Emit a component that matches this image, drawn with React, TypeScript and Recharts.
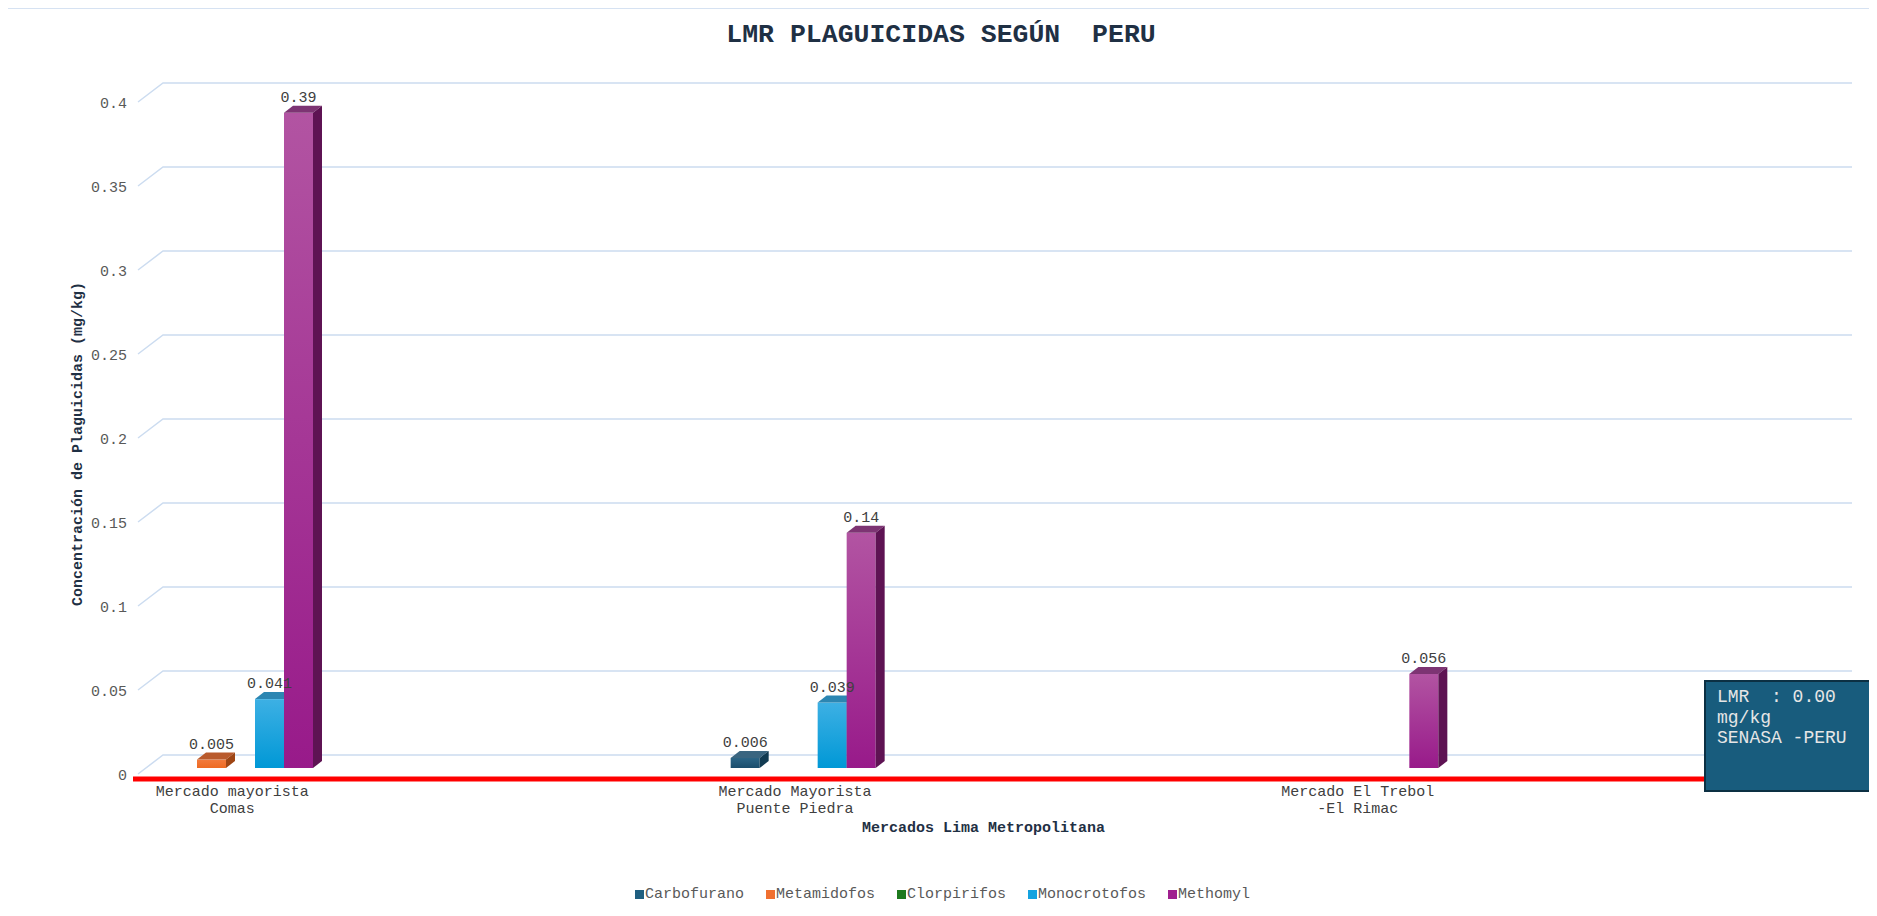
import React from 'react';
import { BarChart, Bar, XAxis, YAxis, CartesianGrid, Legend, LabelList, ReferenceLine, Label } from 'recharts';

const FONT = '"Liberation Mono", "Courier New", monospace';

// categorias (dos lineas cada una)
const mercados = [
  ['Mercado mayorista', 'Comas'],
  ['Mercado Mayorista', 'Puente Piedra'],
  ['Mercado El Trebol', '-El Rimac'],
];

// concentraciones (mg/kg), null = no detectado
const carbofurano = [null, 0.006, null];
const metamidofos = [0.005, null, null];
const clorpirifos = [null, null, null];
const monocrotofos = [0.041, 0.039, null];
const methomyl = [0.39, 0.14, 0.056];

const yTicks = [0, 0.05, 0.1, 0.15, 0.2, 0.25, 0.3, 0.35, 0.4];

const data = mercados.map((m, i) => ({
  mercado: m.join('\n'),
  carbofurano: carbofurano[i],
  metamidofos: metamidofos[i],
  clorpirifos: clorpirifos[i],
  monocrotofos: monocrotofos[i],
  methomyl: methomyl[i],
}));

const series = [
  { key: 'carbofurano', name: 'Carbofurano', color: '#1F5F80', front: ['#2C6586', '#1B4D6C'], top: '#3A6580', side: '#123B52' },
  { key: 'metamidofos', name: 'Metamidofos', color: '#F07030', front: ['#F27A3C', '#EE6A22'], top: '#B95A2C', side: '#9E4514' },
  { key: 'clorpirifos', name: 'Clorpirifos', color: '#1E7A1E', front: ['#2E8B2E', '#1E6E1E'], top: '#1B5E1B', side: '#124212' },
  { key: 'monocrotofos', name: 'Monocrotofos', color: '#14A3E0', front: ['#3DB0E4', '#0098D6'], top: '#2C86B2', side: '#0B6A96' },
  { key: 'methomyl', name: 'Methomyl', color: '#A0208F', front: ['#B254A2', '#981A8A'], top: '#7D3473', side: '#5E1353' },
];

// barra con efecto 3D: frente + cara superior + lateral
function box3d(s: any) {
  return (props: any) => {
    const { x, y, width, height, payload } = props;
    if (!payload || payload[s.key] == null) return <g />;
    const dx = 9;
    const dy = 7;
    return (
      <g>
        <rect x={x} y={y} width={width} height={height} fill={`url(#grad-${s.key})`} />
        <polygon
          points={`${x},${y} ${x + dx},${y - dy} ${x + width + dx},${y - dy} ${x + width},${y}`}
          fill={s.top}
        />
        <polygon
          points={`${x + width},${y} ${x + width + dx},${y - dy} ${x + width + dx},${y + height - dy} ${x + width},${y + height}`}
          fill={s.side}
        />
      </g>
    );
  };
}

const renderValue = (p: any) => {
  if (p.value == null) return null;
  return (
    <text x={p.x + p.width / 2} y={p.y - 16} dy="0.35em" textAnchor="middle" fill="#404040" fontSize={15} fontFamily={FONT}>
      {p.value}
    </text>
  );
};

const backWall = (p: any) => (
  <polyline
    key={p.key}
    points={`${p.x1 - 2},${p.y1 + 6} ${p.x1 + 23},${p.y1 - 13} ${p.x2 + 25},${p.y1 - 13}`}
    fill="none"
    stroke="#CCDCF0"
    strokeWidth={1.5}
  />
);

const lmrLine = (p: any) => (
  <line x1={p.x1 - 7} y1={p.y1 + 11} x2={p.x2} y2={p.y1 + 11} stroke="#FF0000" strokeWidth={5} />
);

const yTick = (p: any) => (
  <text x={p.x} y={p.y + 7} dy="0.35em" textAnchor="end" fill="#595959" fontSize={15} fontFamily={FONT}>
    {p.payload.value}
  </text>
);

const xTick = (p: any) => {
  const lines = String(p.payload.value).split('\n');
  return (
    <g>
      {lines.map((t, i) => (
        <text key={i} x={p.x - 8} y={p.y + 23 + i * 17} dy="0.35em" textAnchor="middle" fill="#404040" fontSize={15} fontFamily={FONT}>
          {t}
        </text>
      ))}
    </g>
  );
};

const yLabel = (p: any) => {
  const vb = p.viewBox;
  const cx = vb.x + 69;
  const cy = vb.y + vb.height / 2 + 12;
  return (
    <text x={cx} y={cy} dy="0.35em" transform={`rotate(-90 ${cx} ${cy})`} textAnchor="middle" fill="#1F3044" fontSize={15} fontWeight="bold" fontFamily={FONT}>
      Concentración de Plaguicidas (mg/kg)
    </text>
  );
};

const xLabel = (p: any) => {
  const vb = p.viewBox;
  return (
    <text x={vb.x + vb.width / 2} y={vb.y + 59} dy="0.35em" textAnchor="middle" fill="#1F3044" fontSize={15} fontWeight="bold" fontFamily={FONT}>
      Mercados Lima Metropolitana
    </text>
  );
};

const legendContent = () => (
  <div style={{ display: 'flex', justifyContent: 'center', alignItems: 'center', height: 22, paddingLeft: 50, gap: 22, fontFamily: FONT, fontSize: 15, color: '#595959' }}>
    {series.map((s) => (
      <div key={s.key} style={{ display: 'flex', alignItems: 'center' }}>
        <span style={{ display: 'inline-block', width: 9, height: 9, background: s.color, marginRight: 1 }} />
        {s.name}
      </div>
    ))}
  </div>
);

export default function App() {
  return (
    <div style={{ position: 'relative', width: 1866, height: 912, border: '2px solid #D6E2F2', margin: '-1px 0 0 -2px', background: '#fff' }}>
      <div style={{ position: 'absolute', left: 0, top: 11, width: 1866, textAlign: 'center', fontFamily: FONT, fontSize: 26.5, lineHeight: '30px', fontWeight: 'bold', color: '#1F3044', whiteSpace: 'pre' }}>
        LMR PLAGUICIDAS SEGÚN  PERU
      </div>
      <BarChart width={1866} height={912} data={data} margin={{ top: 87, right: 47, bottom: 16, left: 0 }} barSize={29} barGap={0}>
        <defs>
          {series.map((s) => (
            <linearGradient key={s.key} id={`grad-${s.key}`} x1="0" y1="0" x2="0" y2="1">
              <stop offset="0%" stopColor={s.front[0]} />
              <stop offset="100%" stopColor={s.front[1]} />
            </linearGradient>
          ))}
        </defs>
        <CartesianGrid vertical={false} horizontal={backWall} />
        <XAxis
          dataKey="mercado"
          axisLine={false}
          tickLine={false}
          tickSize={0}
          tickMargin={0}
          height={115}
          padding={{ left: -181, right: 180 }}
          tick={xTick}
          interval={0}
          label={<Label content={xLabel} />}
        />
        <YAxis
          domain={[0, 0.4]}
          ticks={yTicks}
          axisLine={false}
          tickLine={false}
          tickSize={0}
          tickMargin={13}
          width={132}
          tick={yTick}
          label={<Label content={yLabel} />}
        />
        <ReferenceLine y={0} shape={lmrLine} ifOverflow="visible" />
        {series.map((s) => (
          <Bar key={s.key} dataKey={s.key} name={s.name} fill={s.color} shape={box3d(s)} isAnimationActive={false}>
            <LabelList dataKey={s.key} content={renderValue} />
          </Bar>
        ))}
        <Legend verticalAlign="bottom" content={legendContent} />
      </BarChart>
      <div style={{ position: 'absolute', left: 1696, top: 671, width: 175, height: 112, boxSizing: 'border-box', background: '#185C7D', border: '2px solid #0C3043', padding: '5px 0 0 11px', fontFamily: FONT, fontSize: 18, lineHeight: '20.5px', color: '#E6E6E6', whiteSpace: 'pre' }}>
        {'LMR  : 0.00\nmg/kg\nSENASA -PERU'}
      </div>
    </div>
  );
}
